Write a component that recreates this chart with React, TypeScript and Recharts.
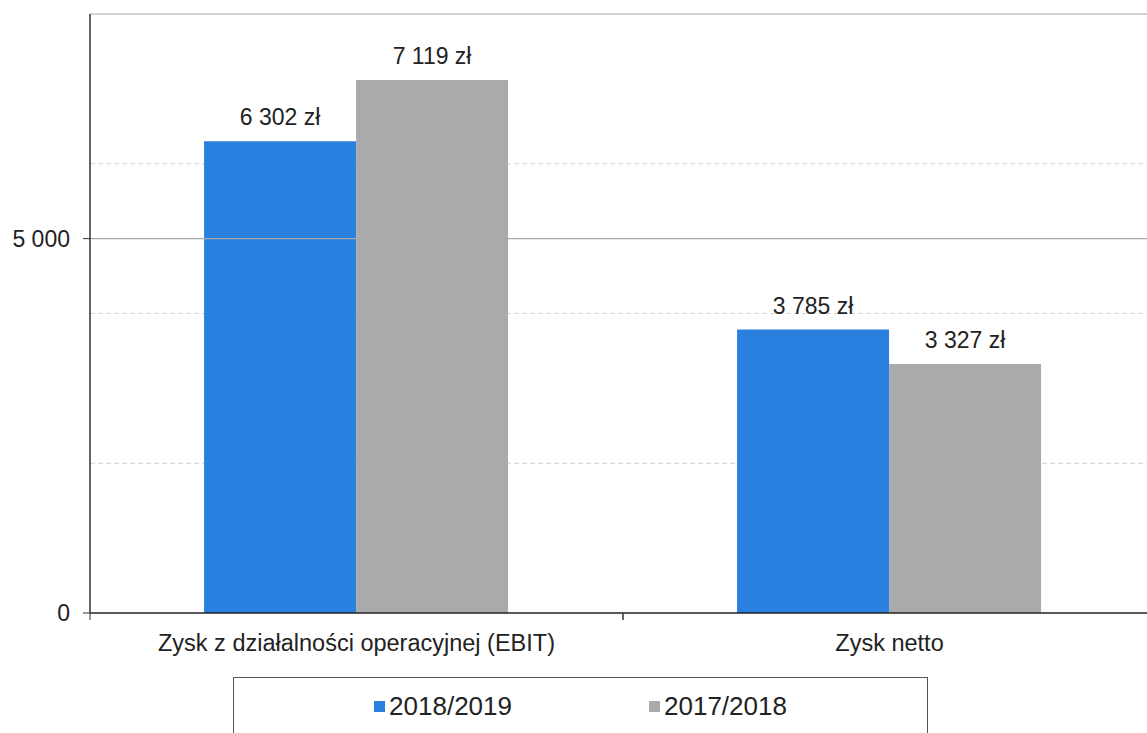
import React from "react";
import { BarChart, Bar, XAxis, YAxis, CartesianGrid, ReferenceLine, Legend, LabelList } from "recharts";

const categories = ["Zysk z działalności operacyjnej (EBIT)", "Zysk netto"];
const series2019 = [6302, 3785];
const series2018 = [7119, 3327];
const seriesNames = ["2018/2019", "2017/2018"];
const yTicks = [0, 5000];
const minorGrid = [2000, 4000, 6000];
const majorGrid = [5000, 8000];
const yMax = 8000;

const data = categories.map((name, i) => ({ name, a: series2019[i], b: series2018[i] }));

const fmt = (v: number) => String(Math.round(Number(v))).replace(/\B(?=(\d{3})+(?!\d))/g, " ");
const fmtZl = (v: any) => `${fmt(v)} zł`;

const TICK_SIZE = 7;
const TICK_MARGIN = 15;
const TEXT = "#222";

// category label in the middle, tick marks on the band edges
function CategoryTick(props: any) {
  const { x, y, payload } = props;
  const half = payload?.offset ?? 266.5;
  const axisY = y - TICK_SIZE - TICK_MARGIN;
  return (
    <g>
      <line x1={x - half} x2={x - half} y1={axisY} y2={axisY + TICK_SIZE} stroke="#333" />
      <line x1={x + half} x2={x + half} y1={axisY} y2={axisY + TICK_SIZE} stroke="#333" />
      <text x={x} y={y} dy={16} textAnchor="middle" fontSize={23.5} fill={TEXT}>
        {payload.value}
      </text>
    </g>
  );
}

function LegendBox({ payload }: any) {
  const items = [...(payload || [])].sort(
    (p: any, q: any) => seriesNames.indexOf(p.value) - seriesNames.indexOf(q.value)
  );
  return (
    <div
      style={{
        width: 695,
        height: 72,
        border: "1.5px solid #555",
        boxSizing: "border-box",
        display: "flex",
        justifyContent: "center",
        alignItems: "flex-start",
        paddingTop: 13,
        gap: 137,
      }}
    >
      {items.map((p: any) => (
        <div key={p.value} style={{ display: "flex", alignItems: "center", fontSize: 26, color: TEXT, lineHeight: "30px" }}>
          <span style={{ display: "inline-block", width: 11, height: 11, background: p.color, marginRight: 4 }} />
          {p.value}
        </div>
      ))}
    </div>
  );
}

export default function App() {
  return (
    <div
      style={{
        position: "absolute",
        left: 0,
        top: 0,
        width: 1147,
        height: 733,
        overflow: "hidden",
        background: "#fff",
        fontFamily: '"Liberation Sans", Arial, sans-serif',
      }}
    >
      <BarChart
        width={1170}
        height={760}
        data={data}
        margin={{ top: 14, right: 14, left: 0, bottom: 11 }}
        barCategoryGap="21.4%"
        barGap={0}
      >
        <CartesianGrid vertical={false} horizontalValues={minorGrid} stroke="#d4d4d4" strokeDasharray="5 3" />
        {majorGrid.map((v) => (
          <ReferenceLine key={v} y={v} stroke="#a8a8a8" strokeWidth={1.2} />
        ))}
        <XAxis
          dataKey="name"
          height={64}
          interval={0}
          tickLine={false}
          tickSize={TICK_SIZE}
          tickMargin={TICK_MARGIN}
          axisLine={{ stroke: "#222", strokeWidth: 1.5 }}
          tick={<CategoryTick />}
        />
        <YAxis
          width={90}
          domain={[0, yMax]}
          ticks={yTicks}
          interval={0}
          tickFormatter={fmt}
          tickSize={7}
          tickMargin={13}
          axisLine={{ stroke: "#333", strokeWidth: 1.5 }}
          tickLine={{ stroke: "#333" }}
          tick={{ fontSize: 23, fill: TEXT }}
        />
        <Legend verticalAlign="bottom" content={<LegendBox />} wrapperStyle={{ left: 233, width: 695 }} />
        <Bar dataKey="a" name={seriesNames[0]} fill="#2A80DF" isAnimationActive={false}>
          <LabelList dataKey="a" position="top" offset={16} formatter={fmtZl} style={{ fontSize: 23, fill: TEXT }} />
        </Bar>
        <Bar dataKey="b" name={seriesNames[1]} fill="#A9AAAC" isAnimationActive={false}>
          <LabelList dataKey="b" position="top" offset={16} formatter={fmtZl} style={{ fontSize: 23, fill: TEXT }} />
        </Bar>
      </BarChart>
    </div>
  );
}
